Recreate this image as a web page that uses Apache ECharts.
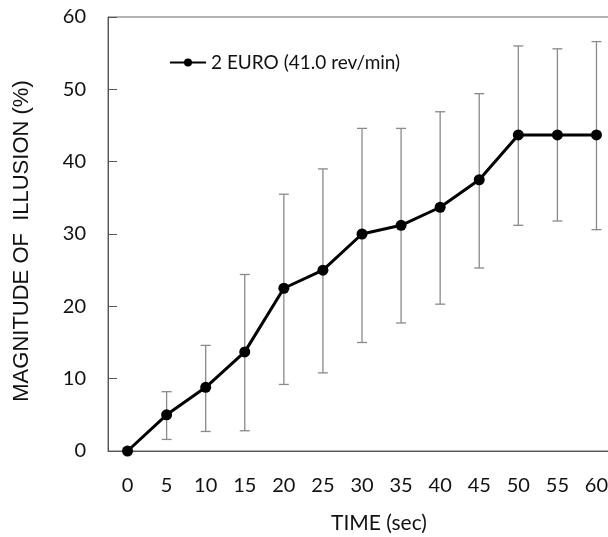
<!DOCTYPE html>
<html>
<head>
<meta charset="utf-8">
<script src="https://cdn.jsdelivr.net/npm/echarts@6/dist/echarts.min.js"></script>
<style>
  html, body { margin: 0; padding: 0; background: #fff; }
  #chart { width: 608px; height: 537px; }
</style>
</head>
<body>
<div id="chart"></div>
<script type="text/javascript">

	// time in seconds
	var times = ['0', '5', '10', '15', '20', '25', '30', '35', '40', '45', '50', '55', '60'];
	// magnitude of illusion (%)
	var means = [0, 5.0, 8.8, 13.7, 22.5, 25.0, 30.0, 31.2, 33.7, 37.5, 43.7, 43.7, 43.7];
	var upper = [0, 8.2, 14.6, 24.4, 35.5, 39.0, 44.6, 44.6, 46.9, 49.4, 56.0, 55.6, 56.6];
	var lower = [0, 1.6, 2.7, 2.8, 9.2, 10.8, 15.0, 17.7, 20.3, 25.3, 31.2, 31.8, 30.6];
	var yTicks = [0, 10, 20, 30, 40, 50, 60];

	var errData = [];
	for (var i = 1; i < times.length; i++) {
		errData.push([i, lower[i], upper[i]]);
	}

	var chart = echarts.init(document.getElementById('chart'));
	chart.setOption({
		animation: false,
		textStyle: { fontFamily: 'Lato' },
		grid: {
			left: 108, top: 17, width: 508, bottom: 86,
			outerBoundsMode: 'none',
			containLabel: false,
			show: true, borderColor: '#666', borderWidth: 1
		},
		legend: {
			left: 164, top: 48,
			itemWidth: 36, itemHeight: 10, itemGap: 4,
			textStyle: { fontFamily: 'Lato', fontSize: 19, color: '#111' },
			data: ['2 EURO (41.0 rev/min)']
		},
		xAxis: {
			type: 'category',
			data: times,
			boundaryGap: true,
			name: 'TIME (sec)',
			nameLocation: 'middle',
			nameGap: 62,
			nameTextStyle: { fontFamily: 'Lato', fontSize: 21, color: '#111', padding: [0, 0, 0, 34] },
			axisLine: { lineStyle: { color: '#555' } },
			axisTick: { inside: true, alignWithLabel: true, length: 6, lineStyle: { color: '#555' } },
			axisLabel: { fontSize: 20, color: '#111', margin: 25, interval: 0 }
		},
		yAxis: {
			type: 'value',
			min: yTicks[0], max: yTicks[yTicks.length - 1], interval: 10,
			name: 'MAGNITUDE OF  ILLUSION (%)',
			nameLocation: 'middle',
			nameGap: 75,
			nameTextStyle: { fontFamily: 'Liberation Sans', fontSize: 22, color: '#111', padding: [0, 14, 0, 0] },
			axisLine: { show: true, lineStyle: { color: '#555' } },
			axisTick: { show: true, inside: true, length: 9, lineStyle: { color: '#555' } },
			axisLabel: { fontSize: 20, color: '#111', margin: 22 },
			splitLine: { show: false }
		},
		series: [
			{
				type: 'custom',
				name: 'err',
				silent: true,
				data: errData,
				renderItem: function (params, api) {
					var x = api.value(0);
					var lo = api.coord([x, api.value(1)]);
					var hi = api.coord([x, api.value(2)]);
					var w = 5;
					var st = { stroke: '#8a8a8a', lineWidth: 1.3 };
					return {
						type: 'group',
						children: [
							{ type: 'line', shape: { x1: hi[0], y1: hi[1], x2: lo[0], y2: lo[1] }, style: st },
							{ type: 'line', shape: { x1: hi[0] - w, y1: hi[1], x2: hi[0] + w, y2: hi[1] }, style: st },
							{ type: 'line', shape: { x1: lo[0] - w, y1: lo[1], x2: lo[0] + w, y2: lo[1] }, style: st }
						]
					};
				},
				z: 1
			},
			{
				name: '2 EURO (41.0 rev/min)',
				type: 'line',
				data: means,
				symbol: 'circle',
				symbolSize: 11,
				lineStyle: { color: '#000', width: 3 },
				itemStyle: { color: '#000' },
				z: 3
			}
		]
	});

</script>
</body>
</html>
